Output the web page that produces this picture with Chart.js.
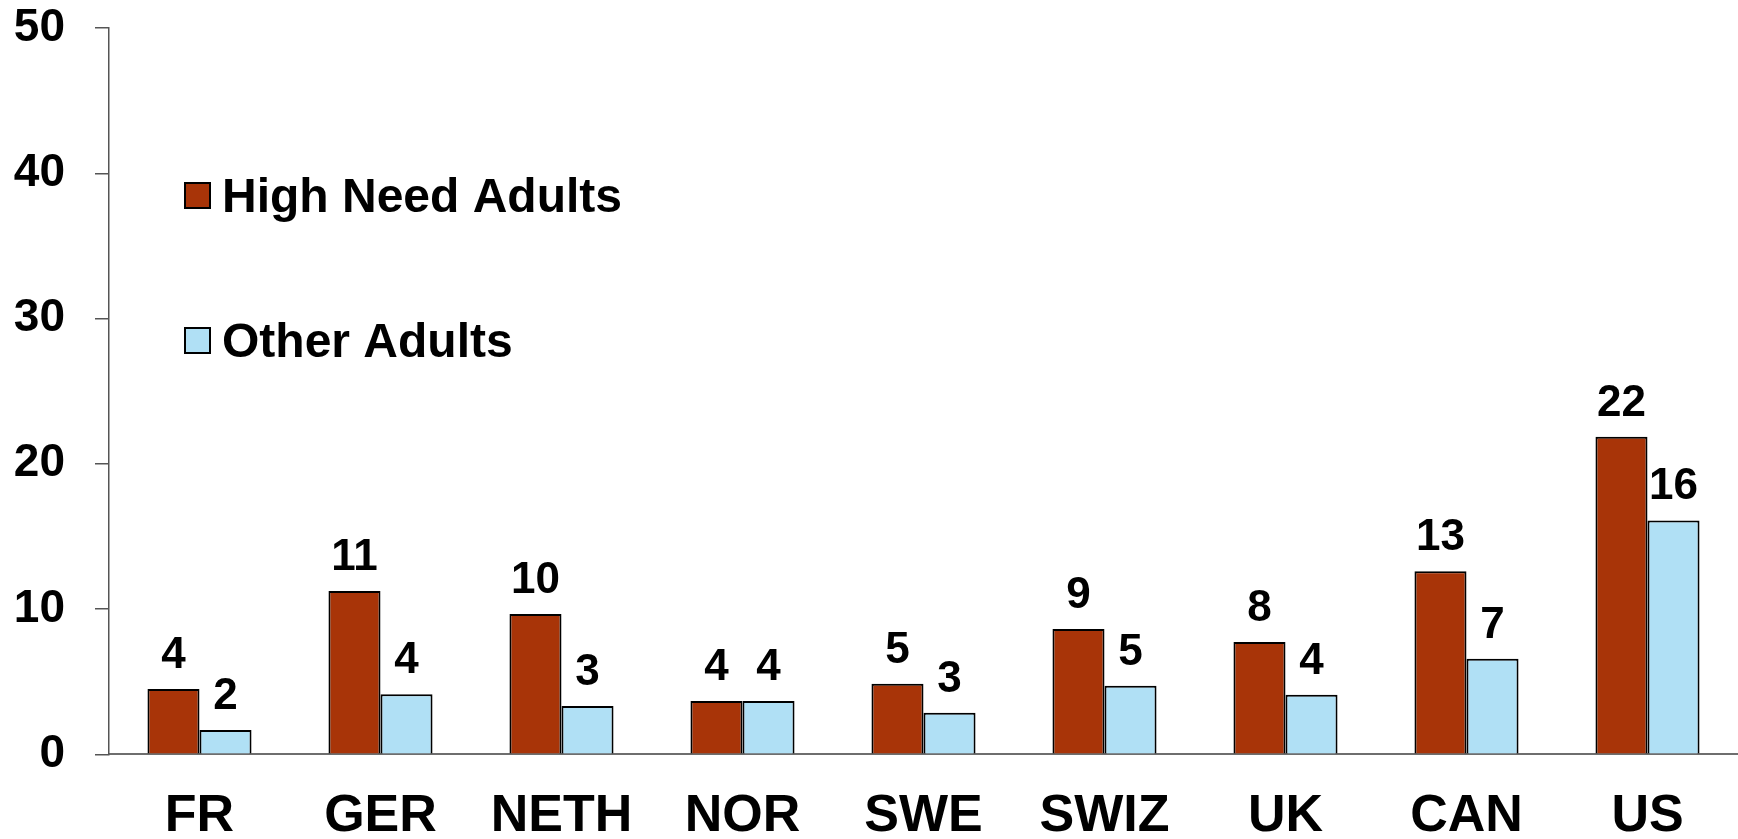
<!DOCTYPE html>
<html>
<head>
<meta charset="utf-8">
<title>High Need Adults vs Other Adults</title>
<script src="https://cdn.jsdelivr.net/npm/chart.js@4.4.1/dist/chart.umd.min.js"></script>
<style>
  html, body { margin: 0; padding: 0; background: #ffffff; }
  #wrap { width: 1738px; height: 839px; }
</style>
</head>
<body>
<div id="wrap"><canvas id="chart" width="1738" height="839"></canvas></div>
<script>
// Countries along the x axis
const countries = ['FR', 'GER', 'NETH', 'NOR', 'SWE', 'SWIZ', 'UK', 'CAN', 'US'];

// Percentages per country
const highNeedAdults = [4.49, 11.24, 9.66, 3.67, 4.86, 8.62, 7.73, 12.6, 21.86];
const otherAdults    = [1.67, 4.13, 3.32, 3.67, 2.86, 4.72, 4.10, 6.58, 16.1];

// Value axis
const yTicks = [0, 10, 20, 30, 40, 50];

const seriesNames = ['High Need Adults', 'Other Adults'];
const seriesColors = ['#A83408', '#B0E0F5'];

const FONT = "'Liberation Sans', Arial, Helvetica, sans-serif";

// Rounded value printed above each bar
const valueLabels = {
  id: 'valueLabels',
  afterDatasetsDraw(chart) {
    const ctx = chart.ctx;
    ctx.save();
    ctx.font = 'bold 44px ' + FONT;
    ctx.fillStyle = '#000000';
    ctx.textAlign = 'center';
    ctx.textBaseline = 'alphabetic';
    chart.data.datasets.forEach((ds, i) => {
      chart.getDatasetMeta(i).data.forEach((bar, j) => {
        ctx.fillText(String(Math.round(ds.data[j])), bar.x, bar.y - 21);
      });
    });
    ctx.restore();
  }
};

// Stacked legend inside the plot area, upper left
const stackedLegend = {
  id: 'stackedLegend',
  afterDraw(chart) {
    const ctx = chart.ctx;
    const x0 = 185, box = 25, gap = 145, top0 = 183;
    ctx.save();
    ctx.font = 'bold 48px ' + FONT;
    ctx.textAlign = 'left';
    ctx.textBaseline = 'alphabetic';
    chart.data.datasets.forEach((ds, i) => {
      const top = top0 + i * gap;
      ctx.fillStyle = ds.backgroundColor;
      ctx.fillRect(x0, top, box, box);
      ctx.lineWidth = 2;
      ctx.strokeStyle = '#000000';
      ctx.strokeRect(x0, top, box, box);
      ctx.fillStyle = '#000000';
      ctx.fillText(ds.label, x0 + 37, top + 29);
    });
    ctx.restore();
  }
};

new Chart(document.getElementById('chart'), {
  type: 'bar',
  data: {
    labels: countries,
    datasets: [
      {
        label: seriesNames[0],
        data: highNeedAdults,
        backgroundColor: seriesColors[0],
        borderColor: '#000000',
        borderWidth: 2
      },
      {
        label: seriesNames[1],
        data: otherAdults,
        backgroundColor: seriesColors[1],
        borderColor: '#000000',
        borderWidth: 2
      }
    ]
  },
  options: {
    responsive: false,
    animation: false,
    events: [],
    layout: { padding: { top: 28, right: 0, bottom: 0, left: 0 } },
    datasets: {
      bar: { categoryPercentage: 0.575, barPercentage: 1.0 }
    },
    plugins: {
      legend: { display: false },
      tooltip: { enabled: false },
      title: { display: false }
    },
    scales: {
      x: {
        grid: { display: false, drawTicks: false },
        border: { display: true, color: '#6e6e6e', width: 2 },
        ticks: {
          color: '#000000',
          padding: 36,
          font: { family: FONT, size: 52, weight: 'bold', lineHeight: 1 },
          maxRotation: 0,
          autoSkip: false
        },
        afterFit(scale) {
          scale.height = 84.7;
          scale.paddingLeft = 0;
          scale.paddingRight = 0;
        }
      },
      y: {
        min: 0,
        max: 50,
        afterBuildTicks(scale) { scale.ticks = yTicks.map(v => ({ value: v })); },
        grid: {
          drawOnChartArea: false,
          drawTicks: true,
          tickLength: 14,
          color: '#555555',
          lineWidth: 1.5
        },
        border: { display: true, color: '#555555', width: 1.5 },
        ticks: {
          color: '#000000',
          padding: 30,
          font: { family: FONT, size: 46, weight: 'bold' }
        },
        afterFit(scale) {
          scale.width = 109;
          scale.paddingTop = 0;
          scale.paddingBottom = 0;
        }
      }
    }
  },
  plugins: [valueLabels, stackedLegend]
});
</script>
</body>
</html>
